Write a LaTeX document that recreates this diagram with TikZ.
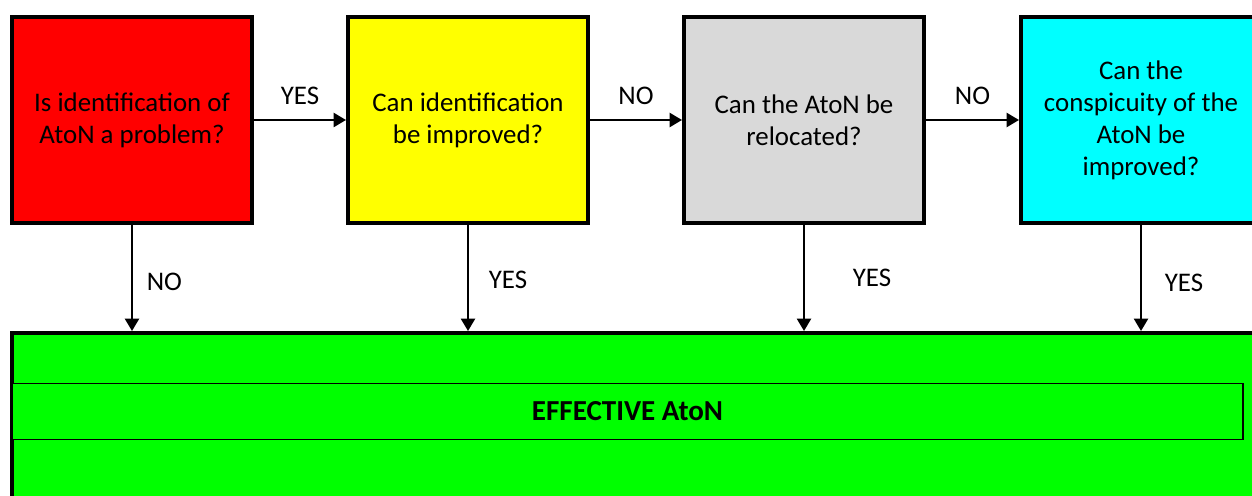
\documentclass[tikz,border=0pt]{standalone}
\usepackage{fontspec}
\setmainfont{Carlito}
\usetikzlibrary{arrows.meta,positioning}
\definecolor{boxred}{HTML}{FF0000}
\definecolor{boxyellow}{HTML}{FFFF00}
\definecolor{boxgray}{HTML}{D9D9D9}
\definecolor{boxcyan}{HTML}{00FFFF}
\definecolor{boxgreen}{HTML}{00FF00}
\tikzset{
question/.style={draw, line width=2.3pt, fill=#1, minimum width=4.8cm, minimum height=4.12cm, align=center, inner sep=0pt},
outcome/.style={draw, line width=2.3pt, fill=boxgreen, minimum width=25.4cm, minimum height=4cm, inner sep=0pt},
band/.style={draw, line width=0.7pt, fill=boxgreen, outer sep=0pt, minimum width=24.62cm, minimum height=1.12cm, font=\fontsize{16.5}{18}\selectfont\bfseries},
arr/.style={-{Triangle[length=7pt,width=8pt]}, line width=1.1pt},
}
\tikzstyle{every node}=[font=\fontsize{15.3}{18.2}\selectfont]

\begin{document}
\begin{tikzpicture}
    \useasboundingbox (0,0) rectangle (25.04,9.9);
    \clip (0,0) rectangle (25.04,9.9);

    \node[question=boxred]    (identify)  at (2.64,7.5)  {Is identification of\\AtoN a problem?};
    \node[question=boxyellow] (improve)   at (9.36,7.5)  {Can identification\\be improved?};
    \node[question=boxgray]   (relocate)  at (16.08,7.5) {Can the AtoN be\\relocated?};
    \node[question=boxcyan]   (conspic)   at (22.82,7.5) {Can the\\conspicuity of the\\AtoN be\\improved?};

    \node[outcome, anchor=north west] (result) at (0.2,3.28) {};
    \node[band, anchor=west] (effective) at (0.24,1.67) {EFFECTIVE AtoN};

    \draw[arr] (identify) -- (improve)
        node[midway, above=0.16cm] {YES};
    \draw[arr] (improve) -- (relocate)
        node[midway, above=0.16cm] {NO};
    \draw[arr] (relocate) -- (conspic)
        node[midway, above=0.16cm] {NO};

    \draw[arr] (identify) -- (identify |- result.north)
        node[midway, right=0.16cm, yshift=-0.08cm] {NO};
    \draw[arr] (improve) -- (improve |- result.north)
        node[midway, right=0.28cm, yshift=-0.04cm] {YES};
    \draw[arr] (relocate) -- (relocate |- result.north)
        node[midway, right=0.84cm] {YES};
    \draw[arr] (conspic) -- (conspic |- result.north)
        node[midway, right=0.34cm, yshift=-0.1cm] {YES};
\end{tikzpicture}
\end{document}
